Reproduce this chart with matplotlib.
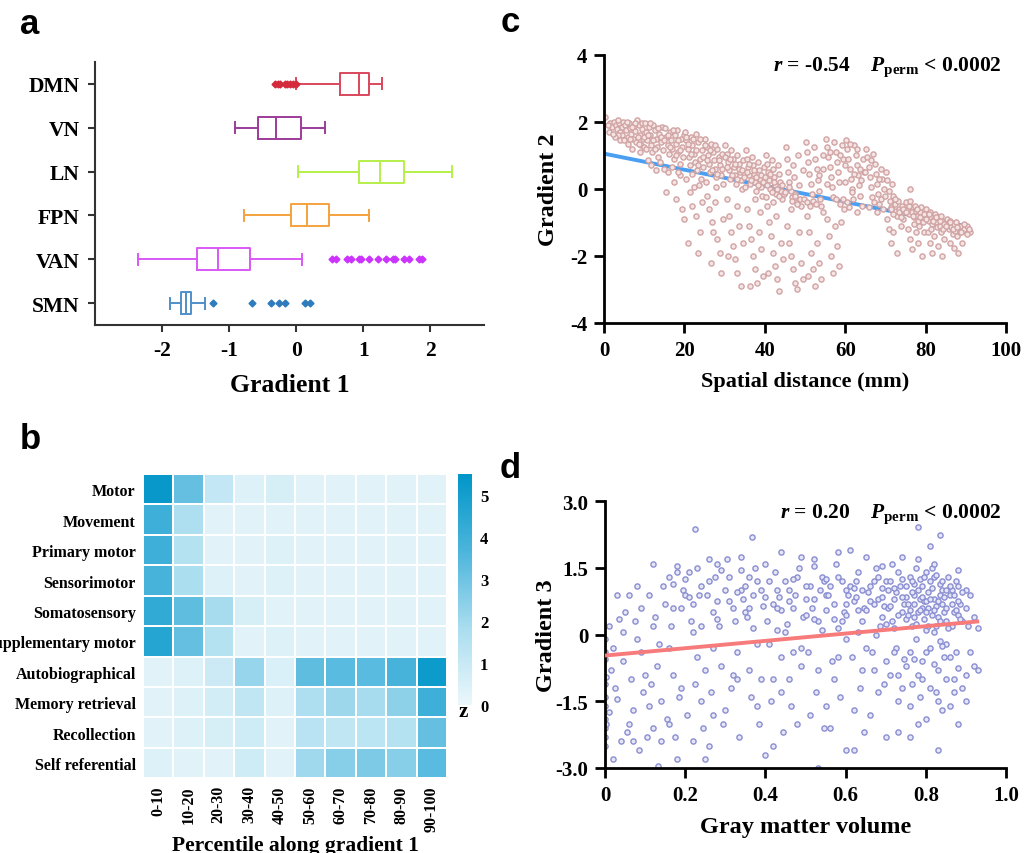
import numpy as np
import matplotlib
matplotlib.use('Agg')
import matplotlib.pyplot as plt
from matplotlib.colors import LinearSegmentedColormap

plt.rcParams['font.family'] = 'Liberation Serif'
plt.rcParams['font.weight'] = 'bold'
plt.rcParams['axes.labelweight'] = 'bold'
plt.rcParams['mathtext.fontset'] = 'custom'
plt.rcParams['mathtext.it'] = 'Liberation Serif:italic:bold'
plt.rcParams['mathtext.rm'] = 'Liberation Serif:bold'
plt.rcParams['mathtext.bf'] = 'Liberation Serif:bold'

# ---- panel a: gradient 1 by network (top to bottom)
networks = ['DMN', 'VN', 'LN', 'FPN', 'VAN', 'SMN']
whislo = [0.00, -0.91, 0.02, -0.78, -2.36, -1.88]
q1 = [0.65, -0.57, 0.93, -0.085, -1.48, -1.72]
med = [0.93, -0.30, 1.25, 0.16, -1.16, -1.65]
q3 = [1.09, 0.075, 1.60, 0.49, -0.69, -1.57]
whishi = [1.28, 0.43, 2.32, 1.09, 0.085, -1.36]
fliers = [
    [-0.31, -0.27, -0.24, -0.16, -0.13, -0.09, -0.05, -0.01],
    [],
    [],
    [],
    [0.53, 0.60, 0.76, 0.81, 0.93, 0.96, 1.08, 1.22, 1.34, 1.45, 1.47, 1.60, 1.68, 1.83, 1.88],
    [-1.24, -0.66, -0.38, -0.25, -0.17, 0.13, 0.21],
]
box_colors = ['#d9475b', '#9b3c9b', '#b6f04a', '#f5a23e', '#d957f5', '#4f8fca']
flier_colors = ['#d42a3c', '#9b3c9b', '#b6f04a', '#f5a23e', '#cc33ff', '#2e7bbd']

# ---- panel b: z-scores of terms along gradient 1
terms = ['Motor', 'Movement', 'Primary motor', 'Sensorimotor', 'Somatosensory',
         'Supplementary motor', 'Autobiographical', 'Memory retrieval',
         'Recollection', 'Self referential']
bins = ['0-10', '10-20', '20-30', '30-40', '40-50', '50-60', '60-70',
        '70-80', '80-90', '90-100']
zvals = np.array([
    [5.3, 3.2, 1.1, 0.4, 0.6, 0.3, 0.3, 0.3, 0.3, 0.3],
    [4.0, 1.7, 0.3, 0.3, 0.3, 0.3, 0.3, 0.3, 0.3, 0.3],
    [4.0, 1.5, 0.3, 0.3, 0.4, 0.3, 0.3, 0.3, 0.3, 0.3],
    [3.8, 1.8, 0.4, 0.3, 0.4, 0.3, 0.3, 0.3, 0.3, 0.3],
    [4.3, 3.3, 1.9, 0.6, 0.3, 0.3, 0.3, 0.3, 0.3, 0.3],
    [4.6, 3.2, 1.5, 0.3, 0.4, 0.3, 0.3, 0.3, 0.3, 0.3],
    [0.3, 0.4, 0.9, 2.2, 0.5, 3.3, 3.4, 3.4, 3.8, 5.2],
    [0.3, 0.4, 0.7, 1.2, 0.4, 1.7, 2.1, 1.9, 2.4, 4.0],
    [0.3, 0.4, 0.6, 0.8, 0.3, 1.4, 1.2, 1.3, 1.5, 3.2],
    [0.4, 0.3, 0.3, 0.8, 0.3, 2.0, 2.5, 2.7, 2.5, 3.4],
])

# ---- panel c: spatial distance vs gradient 2
pts_c = [
    (0.3, 2.15), (1.5, 1.95), (2.0, 1.85), (2.4, 2.0), (3.0, 1.9), (3.3, 1.78), (3.8, 1.95), (4.1, 1.7),
    (4.4, 1.85), (4.8, 2.0), (4.6, 1.6), (3.6, 1.62),
    (5.2, 1.9), (5.5, 1.75), (5.9, 1.55), (6.2, 1.95), (6.5, 1.8), (6.8, 1.65), (7.1, 1.5), (7.4, 1.88),
    (7.8, 1.72), (8.0, 1.4), (8.3, 2.05), (8.6, 1.9), (8.9, 1.6), (9.2, 1.3), (9.5, 1.78), (9.8, 1.5),
    (7.0, 1.2), (9.0, 1.1), (6.0, 1.35),
    (1.2, 1.7), (2.7, 1.55), (3.4, 2.05), (4.0, 1.45), (5.0, 1.45), (5.7, 2.0), (6.4, 1.5), (7.6, 1.95),
    (8.5, 1.55), (9.4, 1.95), (2.2, 1.65), (6.9, 1.85), (8.8, 1.35), (9.9, 1.25), (1.0, 1.9),
    (10.2, 1.95), (10.5, 1.7), (10.8, 1.45), (11.1, 1.85), (11.4, 1.6), (11.7, 1.3), (12.0, 1.1), (12.3, 1.9),
    (12.6, 1.75), (12.9, 1.5), (13.2, 1.25), (13.5, 0.95), (13.8, 1.65), (14.1, 1.4), (14.4, 1.85), (14.7, 1.15),
    (11.0, 0.85), (13.0, 0.55), (14.0, 0.8), (10.5, 1.2),
    (15.2, 1.8), (15.5, 1.55), (15.8, 1.3), (16.1, 1.05), (16.4, 1.7), (16.7, 1.45), (17.0, 1.2), (17.3, 0.9),
    (17.6, 1.6), (17.9, 1.35), (18.2, 1.75), (18.5, 1.1), (18.8, 0.75), (19.1, 1.5), (19.4, 1.25), (19.7, 0.95),
    (16.0, 0.5), (17.5, 0.2), (18.0, -0.3), (19.0, 0.4), (15.5, -0.1), (19.5, -0.6), (16.8, 0.65),
    (10.0, 1.55), (10.9, 1.6), (11.5, 1.95), (12.2, 1.45), (12.8, 1.2), (13.4, 1.8), (14.3, 1.55), (15.0, 1.45),
    (15.9, 1.6), (16.5, 1.25), (17.2, 1.75), (17.8, 1.0), (18.4, 1.45), (19.0, 1.15), (19.8, 1.6), (11.8, 0.7),
    (14.9, 0.6), (18.3, 0.5),
    (20.2, 1.7), (20.5, 1.45), (20.8, 1.2), (21.1, 0.95), (21.4, 0.7), (21.7, 1.55), (22.0, 1.3), (22.3, 1.05),
    (22.6, 0.8), (22.9, 1.65), (23.2, 0.55), (23.5, 1.4), (23.8, 0.9), (24.1, 0.3), (24.4, 1.15), (24.7, 0.65),
    (20.5, 0.3), (21.5, -0.1), (22.0, -0.5), (23.0, -0.8), (24.0, -1.3), (21.0, -1.6), (24.5, -0.4), (22.5, 0.05),
    (20.0, -0.9), (23.5, -1.9),
    (25.2, 1.5), (25.5, 1.25), (25.8, 1.0), (26.1, 0.75), (26.4, 0.5), (26.7, 1.35), (27.0, 1.1), (27.3, 0.85),
    (27.6, 0.6), (27.9, 0.35), (28.2, 1.2), (28.5, 0.95), (28.8, 0.7), (29.1, 0.4), (29.4, 1.05), (29.7, 0.15),
    (25.5, -0.2), (26.0, -0.6), (26.8, -1.0), (27.5, -0.4), (28.0, -1.5), (28.8, -1.9), (29.5, -0.9), (26.5, -2.2),
    (29.0, -2.5), (27.2, -1.3),
    (20.4, 1.55), (21.0, 1.35), (21.6, 1.05), (22.2, 1.5), (22.8, 1.15), (23.4, 0.7), (24.0, 1.5), (24.6, 0.95),
    (25.0, 1.3), (25.7, 0.85), (26.3, 1.15), (26.9, 0.55), (27.5, 1.3), (28.1, 0.45), (28.7, 0.85), (29.3, 0.6),
    (21.8, 0.45), (23.6, 0.1), (25.3, 0.2), (27.8, 0.05),
    (30.2, 1.3), (30.5, 1.05), (30.8, 0.8), (31.1, 0.55), (31.4, 0.3), (31.7, 1.15), (32.0, 0.9), (32.3, 0.65),
    (32.6, 0.4), (32.9, 0.15), (33.2, 1.0), (33.5, 0.75), (33.8, 0.5), (34.1, 0.25), (34.4, 0.0), (34.7, 0.85),
    (30.5, -0.3), (31.0, -0.8), (31.5, -1.3), (32.0, -1.7), (32.5, -2.1), (33.0, -2.5), (33.5, -1.1), (34.0, -2.9),
    (34.5, -1.6), (30.8, -2.0), (33.0, -0.5),
    (35.2, 1.15), (35.5, 0.9), (35.8, 0.65), (36.1, 0.4), (36.4, 0.15), (36.7, 0.95), (37.0, 0.7), (37.3, 0.45),
    (37.6, 0.2), (37.9, -0.05), (38.2, 0.8), (38.5, 0.55), (38.8, 0.3), (39.1, 0.05), (39.4, -0.2), (39.7, 0.65),
    (35.5, -0.6), (36.0, -1.1), (36.5, -1.5), (37.0, -2.0), (37.5, -2.4), (38.0, -2.8), (38.5, -1.3), (39.0, -1.8),
    (39.5, -2.6), (36.2, -2.9), (38.8, -0.7),
    (40.2, 1.0), (40.5, 0.75), (40.8, 0.5), (41.1, 0.25), (41.4, 0.0), (41.7, 0.85), (42.0, 0.6), (42.3, 0.35),
    (42.6, 0.1), (42.9, -0.15), (43.2, 0.7), (43.5, 0.45), (43.8, 0.2), (44.1, -0.05), (44.4, -0.3),
    (40.5, -0.5), (41.0, -1.0), (41.5, -1.4), (42.0, -1.9), (42.5, -2.3), (43.0, -2.7), (43.5, -3.05), (44.0, -1.6),
    (44.5, -2.1), (40.8, -2.5), (42.8, -0.8),
    (30.0, 0.95), (30.6, 0.65), (31.3, 0.9), (31.9, 0.4), (32.5, 0.75), (33.1, 0.3), (33.7, 0.6), (34.3, 0.55),
    (34.9, 0.35), (35.5, 0.5), (36.0, 0.75), (36.6, 0.25), (37.2, 0.55), (37.8, 0.35), (38.4, 0.1), (39.0, 0.4),
    (39.6, 0.2), (40.0, 0.35), (40.6, 0.1), (41.2, 0.45), (41.8, -0.1), (42.4, 0.2), (43.0, 0.0), (43.6, -0.2),
    (44.2, 0.1), (44.8, -0.15), (35.0, 0.05), (37.5, -0.3), (40.2, -0.25), (42.1, -0.4),
    (45.2, 1.25), (45.5, 0.9), (45.8, 0.5), (46.1, 0.2), (46.4, -0.05), (46.7, -0.25), (47.0, 0.7), (47.3, 0.35),
    (47.6, -0.15), (47.9, -0.4), (48.2, 1.0), (48.5, 0.1), (48.8, -0.3), (49.1, -0.5), (49.4, 0.55),
    (45.5, -1.1), (46.0, -1.6), (46.5, -2.0), (47.0, -2.4), (47.5, -2.8), (48.0, -3.0), (48.5, -1.3), (49.0, -2.2),
    (49.5, -2.7), (46.5, -0.6),
    (50.2, 1.4), (50.5, 1.1), (50.8, 0.8), (51.1, 0.45), (51.4, 0.15), (51.7, -0.15), (52.0, -0.35), (52.3, 1.25),
    (52.6, 0.9), (52.9, 0.6), (53.2, 0.25), (53.5, -0.05), (53.8, -0.3), (54.1, -0.5), (54.4, 1.0),
    (50.5, -0.8), (51.0, -1.3), (51.5, -1.9), (52.0, -2.4), (52.5, -2.9), (53.0, -1.6), (53.5, -2.2), (54.0, -2.7),
    (54.5, -0.7), (50.8, -2.6),
    (55.2, 1.5), (55.5, 1.25), (55.8, 0.95), (56.1, 0.65), (56.4, 0.35), (56.7, 0.05), (57.0, -0.25), (57.3, 1.4),
    (57.6, 1.1), (57.9, 0.8), (58.2, 0.5), (58.5, 0.2), (58.8, -0.45), (59.1, 1.3), (59.4, 0.9), (59.7, -0.6),
    (55.5, -0.9), (56.0, -1.4), (56.5, -2.0), (57.0, -2.5), (57.5, -1.1), (58.0, -1.7), (58.5, -2.3), (59.0, -1.0),
    (59.5, -0.3),
    (60.2, 1.45), (60.5, 1.2), (60.8, 0.9), (61.1, 0.6), (61.4, 0.3), (61.7, 0.0), (62.0, -0.3), (62.3, 1.3),
    (62.6, 1.0), (62.9, 0.7), (63.2, 0.4), (63.5, 0.1), (63.8, -0.2), (64.1, -0.5), (64.4, 0.9), (64.7, 0.5),
    (61.0, -0.55), (63.0, -0.7), (60.5, -0.4),
    (65.2, 1.2), (65.5, 0.95), (65.8, 0.65), (66.1, 0.35), (66.4, 0.05), (66.7, -0.25), (67.0, 1.05), (67.3, 0.75),
    (67.6, 0.45), (67.9, 0.15), (68.2, -0.15), (68.5, -0.45), (68.8, 0.6), (69.1, 0.3), (69.4, -0.6), (69.7, 0.0),
    (66.0, -0.55), (68.0, -0.7),
    (45.0, -0.1), (45.9, 0.05), (46.8, -0.35), (47.4, -0.2), (48.0, -0.45), (49.8, -0.3), (50.4, -0.4), (51.2, -0.5),
    (52.8, -0.45), (53.6, 0.4), (54.6, 0.6), (55.4, 0.15), (56.2, 1.1), (57.8, -0.3), (58.8, 1.0), (60.0, 0.7),
    (61.3, 1.35), (62.2, 0.45), (63.0, 1.2), (64.0, 0.25), (65.0, 0.5), (66.3, 0.85), (67.2, -0.4), (68.3, 0.3),
    (69.0, -0.3), (59.9, 0.2), (61.8, -0.1), (63.7, 0.6),
    (70.2, 0.5), (70.5, 0.25), (70.8, -0.05), (71.1, -0.35), (71.4, -0.55), (71.7, 0.15), (72.0, -0.2), (72.3, -0.45),
    (72.6, -0.65), (72.9, -0.8), (73.2, -0.35), (73.5, -0.6), (73.8, -0.75), (74.1, -0.5), (74.4, -0.9),
    (70.5, -0.9), (71.0, -1.2), (71.5, -1.6), (72.0, -1.3), (73.0, -1.9), (74.0, -1.1), (74.7, -0.65),
    (75.2, -0.4), (75.5, -0.6), (75.8, -0.75), (76.1, 0.0), (76.4, -0.55), (76.7, -0.7), (77.0, -0.85), (77.3, -0.5),
    (77.6, -0.65), (77.9, -0.8), (78.2, -0.95), (78.5, -0.7), (78.8, -0.55), (79.1, -0.85), (79.4, -1.0),
    (75.5, -1.2), (76.0, -1.5), (76.5, -1.8), (77.5, -1.3), (78.0, -1.6), (79.0, -2.0), (79.5, -1.3), (77.0, -1.05),
    (80.2, -0.6), (80.5, -0.8), (80.8, -0.95), (81.1, -0.7), (81.4, -0.85), (81.7, -1.05), (82.0, -0.9), (82.3, -0.75),
    (82.6, -1.0), (82.9, -1.15), (83.2, -0.85), (83.5, -1.1), (83.8, -1.3), (84.1, -0.95), (84.4, -1.2),
    (80.5, -1.3), (81.0, -1.6), (81.5, -1.9), (82.0, -1.4), (83.0, -1.7), (84.0, -2.0), (84.5, -1.5),
    (85.2, -0.9), (85.5, -1.05), (85.8, -1.2), (86.1, -0.95), (86.4, -1.15), (86.7, -1.35), (87.0, -1.05), (87.3, -1.25),
    (87.6, -1.0), (87.9, -1.4), (88.2, -1.15), (88.5, -1.3), (88.8, -1.1), (89.1, -1.25), (89.6, -1.2), (90.4, -1.1),
    (91.0, -1.3), (86.0, -1.6), (87.0, -1.75), (88.0, -1.9), (89.0, -1.6), (90.2, -1.35),
    (70.0, -0.2), (71.3, -0.6), (72.5, -0.3), (73.3, -0.7), (74.3, -0.6), (75.0, -0.7), (75.9, -0.5), (76.8, -0.8),
    (77.8, -0.6), (78.6, -0.85), (79.6, -0.75), (80.0, -0.9), (80.9, -0.75), (81.8, -0.95), (82.7, -0.85), (83.6, -0.95),
    (84.6, -1.05), (85.0, -1.1), (86.0, -1.0), (86.9, -1.2), (87.8, -1.15), (88.7, -1.3), (89.5, -1.05), (90.8, -1.2),
    (71.8, -0.75), (73.9, -0.85), (76.2, -0.35), (78.3, -1.1), (81.3, -1.2), (83.9, -0.8),
]
dist_mm = [p[0] for p in pts_c]
grad2 = [p[1] for p in pts_c]
fit_c_x = [0, 90.8]
fit_c_y = [1.05, -1.13]

# ---- panel d: gray matter volume vs gradient 3
pts_d = [
    (0.0, -0.1), (0.0, -0.4), (0.0, -0.55), (0.0, -1.1), (0.0, -1.4), (0.0, -1.6), (0.0, -1.9), (0.0, -2.1),
    (0.0, -2.3), (0.0, -2.5), (0.002, -0.95), (0.003, -2.0),
    (0.01, 0.2), (0.02, -0.3), (0.015, -0.8), (0.03, 0.9), (0.025, -1.2), (0.04, -2.4), (0.035, 0.35), (0.02, -2.8),
    (0.045, -0.6), (0.01, -1.75), (0.03, -1.45), (0.045, 0.05),
    (0.06, 0.9), (0.07, -1.7), (0.08, 1.1), (0.09, -0.4), (0.055, -2.2), (0.075, 0.3), (0.085, -2.6), (0.095, -1.3),
    (0.065, -1.0), (0.09, 0.6), (0.06, -2.0), (0.1, -0.9),
    (0.11, 0.9), (0.12, -2.1), (0.13, -0.7), (0.14, -1.5), (0.125, 0.4), (0.145, 1.1), (0.105, -2.3), (0.135, -0.2),
    (0.15, 0.7), (0.115, -1.1), (0.14, -2.4), (0.12, 1.6), (0.131, -2.96),
    (0.16, 1.3), (0.17, -0.9), (0.18, 1.4), (0.19, 0.6), (0.155, -1.9), (0.165, 0.2), (0.175, -2.3), (0.185, -1.4),
    (0.195, 1.0), (0.16, -0.3), (0.18, -2.8), (0.2, 0.9), (0.19, -1.2), (0.17, 1.15),
    (0.21, 1.4), (0.22, 0.7), (0.23, -0.5), (0.24, 1.1), (0.205, -1.8), (0.215, 0.3), (0.225, -1.1), (0.235, 0.9),
    (0.245, -2.1), (0.2, 1.25), (0.24, -1.5), (0.22, 0.05), (0.25, -0.8), (0.23, 1.5), (0.224, 2.38),
    (0.26, 1.2), (0.27, 0.5), (0.28, 1.6), (0.29, -0.7), (0.255, 0.9), (0.265, -1.3), (0.275, 1.3), (0.285, 0.2),
    (0.295, -2.0), (0.26, -2.5), (0.28, 0.75), (0.3, 1.0), (0.27, -0.3), (0.29, 1.45),
    (0.31, 1.3), (0.32, 0.6), (0.33, -0.4), (0.34, 1.0), (0.305, 1.7), (0.315, -1.2), (0.325, 0.3), (0.335, -2.3),
    (0.345, 0.8), (0.3, -1.7), (0.34, 1.45), (0.32, -0.9), (0.35, 0.5),
    (0.36, 1.3), (0.37, 0.9), (0.38, -0.2), (0.39, 1.0), (0.355, 0.4), (0.365, -1.4), (0.375, 1.5), (0.385, -2.0),
    (0.395, 0.65), (0.36, -0.8), (0.38, 1.2), (0.4, -2.7), (0.37, 0.15), (0.39, -1.0), (0.35, 1.1), (0.367, 2.19),
    (0.41, 1.2), (0.42, 0.7), (0.43, 1.0), (0.44, -0.5), (0.405, 0.3), (0.415, -1.5), (0.425, 1.4), (0.435, 0.85),
    (0.445, -2.2), (0.4, 1.6), (0.43, 0.1), (0.42, -1.0), (0.45, 1.2), (0.44, 0.55), (0.41, -0.2),
    (0.46, 1.0), (0.47, 0.6), (0.48, 1.3), (0.49, -0.3), (0.455, 0.25), (0.465, -1.6), (0.475, 0.9), (0.485, 1.5),
    (0.495, 0.4), (0.46, -1.0), (0.48, -2.0), (0.5, 0.8), (0.47, 1.25), (0.49, -0.7), (0.45, 0.05), (0.49, 1.75),
    (0.51, 1.1), (0.52, 0.8), (0.53, 0.3), (0.54, 1.3), (0.505, -0.4), (0.515, 0.6), (0.525, -1.3), (0.535, 1.0),
    (0.545, -2.1), (0.5, 0.45), (0.52, 1.55), (0.54, 0.1), (0.53, -0.8), (0.55, 0.9), (0.51, -1.8), (0.545, 1.2),
    (0.53, -3.0),
    (0.56, 1.1), (0.57, 0.7), (0.58, 1.3), (0.59, 0.3), (0.555, 0.9), (0.565, -0.6), (0.575, 1.6), (0.585, -1.4),
    (0.595, 0.5), (0.56, -2.1), (0.58, 0.15), (0.6, 1.0), (0.57, -1.0), (0.59, 1.2), (0.55, 0.55), (0.6, -2.6),
    (0.61, 1.1), (0.62, 0.75), (0.63, 1.4), (0.64, 0.3), (0.605, 0.9), (0.615, -0.5), (0.625, 1.2), (0.635, -1.2),
    (0.645, 0.6), (0.61, 1.9), (0.63, 0.05), (0.62, -1.7), (0.64, 1.0), (0.65, -0.3), (0.6, 0.45), (0.645, -2.2),
    (0.625, 0.85),
    (0.66, 1.1), (0.67, 0.7), (0.68, 1.3), (0.69, 0.4), (0.655, 0.95), (0.665, -0.4), (0.675, 1.5), (0.685, 0.2),
    (0.695, -1.1), (0.66, -1.8), (0.68, 0.8), (0.7, 1.2), (0.67, -0.8), (0.69, 1.05), (0.65, 0.55), (0.7, -2.3),
    (0.675, 0.0), (0.695, 0.65),
    (0.71, 1.2), (0.72, 0.8), (0.73, 1.4), (0.74, 0.5), (0.705, 1.0), (0.715, 0.3), (0.725, -0.3), (0.735, 1.1),
    (0.745, 0.7), (0.71, -0.9), (0.73, -1.5), (0.72, 0.15), (0.74, 1.25), (0.75, 0.35), (0.705, 0.6), (0.745, -0.55),
    (0.725, 0.95), (0.73, -2.2), (0.715, 1.6), (0.75, 0.85), (0.74, -1.2),
    (0.76, 1.3), (0.77, 0.9), (0.78, 0.5), (0.79, 1.1), (0.755, 0.7), (0.765, 0.2), (0.775, 1.5), (0.785, 0.8),
    (0.795, 0.35), (0.76, -0.4), (0.78, -0.9), (0.77, 1.15), (0.79, 0.6), (0.8, 1.4), (0.755, 0.45), (0.785, -1.4),
    (0.765, 0.95), (0.775, -0.1), (0.795, 0.75), (0.8, 0.1), (0.76, -2.3), (0.78, 1.7), (0.79, -0.6), (0.77, 0.4),
    (0.785, 1.25), (0.8, -1.9), (0.765, -1.1), (0.78, 2.43),
    (0.81, 1.2), (0.82, 0.8), (0.83, 0.4), (0.84, 1.0), (0.805, 0.6), (0.815, 1.5), (0.825, 0.2), (0.835, 0.9),
    (0.845, 0.5), (0.81, -0.3), (0.83, -0.8), (0.82, 1.3), (0.84, 0.7), (0.85, 0.3), (0.805, 0.95), (0.825, -1.3),
    (0.815, 0.45), (0.835, 1.15), (0.845, -0.5), (0.81, 2.0), (0.83, -2.6), (0.84, -1.7), (0.82, 0.05), (0.85, 1.0),
    (0.8, 0.75), (0.825, 0.65), (0.835, -0.15), (0.835, 2.25),
    (0.86, 0.9), (0.87, 0.5), (0.88, 1.1), (0.865, 0.2), (0.875, -0.4), (0.885, 0.7), (0.855, 1.3), (0.87, -1.0),
    (0.89, 0.3), (0.9, -0.9), (0.86, -1.6), (0.88, -2.0), (0.91, -0.4), (0.92, -0.7), (0.93, -0.8), (0.88, 0.45),
    (0.865, 1.0), (0.875, 0.55), (0.9, 1.0), (0.89, -1.2), (0.85, -0.2),
    (0.05, 0.5), (0.08, -0.1), (0.12, 0.2), (0.17, 0.6), (0.21, 0.85), (0.24, 0.2), (0.28, 0.35), (0.31, 0.75),
    (0.33, 0.95), (0.36, 0.6), (0.4, 0.85), (0.43, 0.6), (0.46, 0.75), (0.5, 1.1), (0.52, 0.35), (0.55, 1.25),
    (0.57, 0.35), (0.6, 0.7), (0.62, 1.05), (0.63, 0.55),
    (0.66, 0.75), (0.67, 1.2), (0.69, 0.85), (0.7, 0.25), (0.71, 0.65), (0.72, 1.05), (0.73, 0.45), (0.74, 0.85),
    (0.75, 1.1), (0.76, 0.55), (0.765, 1.2), (0.77, 0.7), (0.775, 0.25), (0.78, 1.0), (0.785, 0.55), (0.79, 0.85),
    (0.795, 1.3), (0.8, 0.5), (0.805, 0.2), (0.81, 0.8), (0.815, 1.05), (0.82, 0.55), (0.825, 1.35), (0.83, 0.75),
    (0.835, 0.3), (0.84, 1.2), (0.845, 0.85), (0.85, 0.6), (0.855, 0.15), (0.86, 1.1), (0.865, 0.7), (0.87, 0.9),
    (0.875, 1.2), (0.88, 0.75), (0.885, 0.35), (0.89, 0.95), (0.9, 0.6), (0.905, 0.2), (0.91, 0.9),
    (0.7, -0.6), (0.72, -0.4), (0.75, -0.7), (0.77, -0.55), (0.8, -0.4), (0.82, -0.65), (0.84, -0.25), (0.86, -0.5),
    (0.88, -0.75), (0.79, -1.0), (0.81, -1.2), (0.83, -1.5), (0.85, -1.0), (0.87, -1.3), (0.76, -1.6), (0.73, -0.9),
    (0.68, -1.3), (0.64, -0.8), (0.6, -0.1), (0.58, -0.5), (0.55, -1.6), (0.47, -0.4), (0.44, -1.3), (0.38, -1.6),
    (0.33, -1.0), (0.27, -1.8), (0.22, -2.4), (0.16, -2.0), (0.11, -1.6), (0.07, -2.4), (0.25, -2.8), (0.42, -2.5),
    (0.62, -2.6), (0.78, -2.0), (0.9, -1.5), (0.92, 0.4), (0.93, 0.15), (0.88, 1.45), (0.82, 1.6), (0.74, 1.75),
    (0.69, 1.55), (0.65, 1.75), (0.58, 1.85), (0.52, 1.7), (0.44, 1.85), (0.34, 1.75), (0.26, 1.7), (0.18, 1.55),
]
gm_volume = [p[0] for p in pts_d]
grad3 = [p[1] for p in pts_d]
fit_d_x = [0, 0.933]
fit_d_y = [-0.47, 0.30]

W, H = 1027, 854
fig = plt.figure(figsize=(W / 100, H / 100), dpi=100)


def box(l, t, r, b):
    return [l / W, 1 - b / H, (r - l) / W, (b - t) / H]


# ================= a
ax_a = fig.add_axes(box(95, 63, 484, 326))
n = len(networks)
for i, name in enumerate(networks):
    pos = n - 1 - i
    c = box_colors[i]
    st = dict(med=med[i], q1=q1[i], q3=q3[i], whislo=whislo[i], whishi=whishi[i],
              fliers=fliers[i], label=name)
    ax_a.bxp([st], positions=[pos], widths=0.5, capwidths=0.25, orientation='horizontal',
             showfliers=True,
             boxprops=dict(color=c, lw=1.4), whiskerprops=dict(color=c, lw=1.4),
             capprops=dict(color=c, lw=1.4), medianprops=dict(color=c, lw=1.4),
             flierprops=dict(marker='D', markersize=3.5, markerfacecolor=flier_colors[i],
                             markeredgecolor=flier_colors[i]))
ax_a.set_yticks(range(n))
ax_a.set_yticklabels(networks[::-1], fontsize=15.5, fontweight='bold')
ax_a.set_ylim(-0.5, 5.5)
ax_a.set_xlim(-3.0, 2.8)
ax_a.set_xticks([-2, -1, 0, 1, 2])
ax_a.set_xticklabels(['-2', '-1', '0', '1', '2'], fontsize=15.5, fontweight='bold')
ax_a.set_xlabel('Gradient 1', fontsize=18.5, fontweight='bold', labelpad=9)
for s in ['top', 'right']:
    ax_a.spines[s].set_visible(False)
for s in ['left', 'bottom']:
    ax_a.spines[s].set_linewidth(1.5)
    ax_a.spines[s].set_color('#333333')
ax_a.tick_params(axis='both', direction='out', length=5, width=1.5, color='#333333', pad=6)

# ================= b
ax_b = fig.add_axes(box(142.7, 475, 447.3, 779.3))
cmap = LinearSegmentedColormap.from_list('blu', ['#ebf7fb', '#a9ddef', '#4cb5dc', '#0096c8'])
mesh = ax_b.pcolormesh(zvals, cmap=cmap, vmin=0, vmax=5.5, edgecolors='white', linewidth=1.2)
ax_b.set_xlim(0, len(bins))
ax_b.set_ylim(len(terms), 0)
ax_b.set_xticks(np.arange(len(bins)) + 0.5)
ax_b.set_xticklabels(bins, rotation=90, fontsize=11.5, fontweight='bold')
ax_b.set_yticks(np.arange(len(terms)) + 0.5)
ax_b.set_yticklabels(terms, fontsize=11.5, fontweight='bold')
ax_b.tick_params(length=0, pad=5)
for s in ax_b.spines.values():
    s.set_visible(False)
ax_b.set_xlabel('Percentile along gradient 1', fontsize=15.5, fontweight='bold', labelpad=3)

cax = fig.add_axes(box(458.3, 475, 471.7, 706))
cb = fig.colorbar(mesh, cax=cax, ticks=range(6))
cb.outline.set_visible(False)
cax.tick_params(length=0, pad=6, labelsize=12)
for lab in cax.get_yticklabels():
    lab.set_fontweight('bold')
fig.text(463 / W, 1 - 712 / H, 'z', fontsize=15, fontweight='bold', ha='center', va='center')

# ================= c
ax_c = fig.add_axes(box(604, 55.7, 1006, 324))
ax_c.plot(fit_c_x, fit_c_y, color='#4b9ff2', lw=2.8, zorder=1, solid_capstyle='butt')
ax_c.scatter(dist_mm, grad2, s=14, facecolors='#f4e4e4', edgecolors='#d2a4a4', linewidths=1.0, zorder=2)
ax_c.set_xlim(0, 100)
ax_c.set_ylim(-4, 4)
ax_c.set_xticks([0, 20, 40, 60, 80, 100])
ax_c.set_xticklabels(['0', '20', '40', '60', '80', '100'], fontsize=15, fontweight='bold')
ax_c.set_yticks([-4, -2, 0, 2, 4])
ax_c.set_yticklabels(['-4', '-2', '0', '2', '4'], fontsize=15, fontweight='bold')
ax_c.set_xlabel('Spatial distance (mm)', fontsize=16, fontweight='bold', labelpad=8)
ax_c.set_ylabel('Gradient 2', fontsize=17.5, fontweight='bold', labelpad=8)
ax_c.text(0.99, 1.0, r'$r$ = -0.54    $P_{\mathrm{perm}}$ < 0.0002', transform=ax_c.transAxes,
          ha='right', va='top', fontsize=15.5, fontweight='bold')

# ================= d
ax_d = fig.add_axes(box(605, 502.3, 1006, 769))
ax_d.scatter(gm_volume, grad3, s=14, facecolors='#e6e7f6', edgecolors='#8a8ed2', linewidths=1.0, zorder=2)
ax_d.plot(fit_d_x, fit_d_y, color='#f77b7b', lw=2.8, zorder=3, solid_capstyle='butt')
ax_d.set_xlim(0, 1.0)
ax_d.set_ylim(-3.0, 3.0)
ax_d.set_xticks([0, 0.2, 0.4, 0.6, 0.8, 1.0])
ax_d.set_xticklabels(['0', '0.2', '0.4', '0.6', '0.8', '1.0'], fontsize=15, fontweight='bold')
ax_d.set_yticks([-3.0, -1.5, 0, 1.5, 3.0])
ax_d.set_yticklabels(['-3.0', '-1.5', '0', '1.5', '3.0'], fontsize=15, fontweight='bold')
ax_d.set_xlabel('Gray matter volume', fontsize=17.5, fontweight='bold', labelpad=8)
ax_d.set_ylabel('Gradient 3', fontsize=17.5, fontweight='bold', labelpad=-1)
ax_d.text(0.99, 1.0, r'$r$ = 0.20    $P_{\mathrm{perm}}$ < 0.0002', transform=ax_d.transAxes,
          ha='right', va='top', fontsize=15.5, fontweight='bold')

for ax in (ax_c, ax_d):
    for s in ['top', 'right']:
        ax.spines[s].set_visible(False)
    for s in ['left', 'bottom']:
        ax.spines[s].set_linewidth(2.0)
    ax.tick_params(axis='both', direction='out', length=7, width=2, pad=5)

# panel letters
for letter, x, y in [('a', 30, 25), ('b', 30, 440), ('c', 510, 22), ('d', 510, 468)]:
    fig.text(x / W, 1 - y / H, letter, fontsize=25, fontweight='bold', family='Liberation Sans',
             ha='center', va='center')

fig.savefig('out.png', dpi=100)
